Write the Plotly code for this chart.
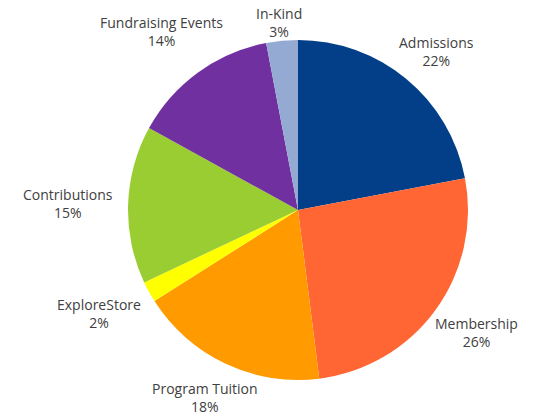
import numpy as np
import plotly.graph_objects as go

categories = ["Admissions", "Membership", "Program Tuition", "ExploreStore",
              "Contributions", "Fundraising Events", "In-Kind"]
values = [22, 26, 18, 2, 15, 14, 3]
colors = ["#023F88", "#FF6633", "#FF9A00", "#FFFF00", "#9ACD32", "#7030A0", "#95AAD3"]

W, H = 543, 415
cx, cy, R = 298, 210, 170  # pie placement in pixels

fig = go.Figure(go.Pie(
    labels=categories, values=values, sort=False, direction="clockwise", rotation=0,
    marker=dict(colors=colors, line=dict(width=0)),
    textinfo="none", hoverinfo="label+percent", showlegend=False,
    domain=dict(x=[(cx - R) / W, (cx + R) / W], y=[(H - cy - R) / H, (H - cy + R) / H]),
))

total = sum(values)
cum = np.cumsum([0] + values[:-1])
annotations = []
for name, v, c in zip(categories, values, cum):
    theta = np.deg2rad((c + v / 2) / total * 360)
    s, co = np.sin(theta), np.cos(theta)
    bw, bh = len(name) * 7.0, 28
    rr = R + 2 + abs(s) * bw / 2 + abs(co) * bh / 2
    px, py = cx + rr * s + 12 * s, cy - rr * co
    pct = round(v / total * 100)
    annotations.append(dict(
        x=px / W, y=1 - py / H, xref="paper", yref="paper",
        xanchor="center", yanchor="middle", showarrow=False, align="center",
        text=f"{name}<br>{pct}%",
        font=dict(family="Open Sans, sans-serif", size=14, color="#404040"),
    ))

fig.update_layout(
    width=W, height=H, margin=dict(l=0, r=0, t=0, b=0),
    paper_bgcolor="white", plot_bgcolor="white",
    annotations=annotations,
)
fig.write_html("out.html", config={"displayModeBar": False},
               post_script="document.body.style.margin='0';")
